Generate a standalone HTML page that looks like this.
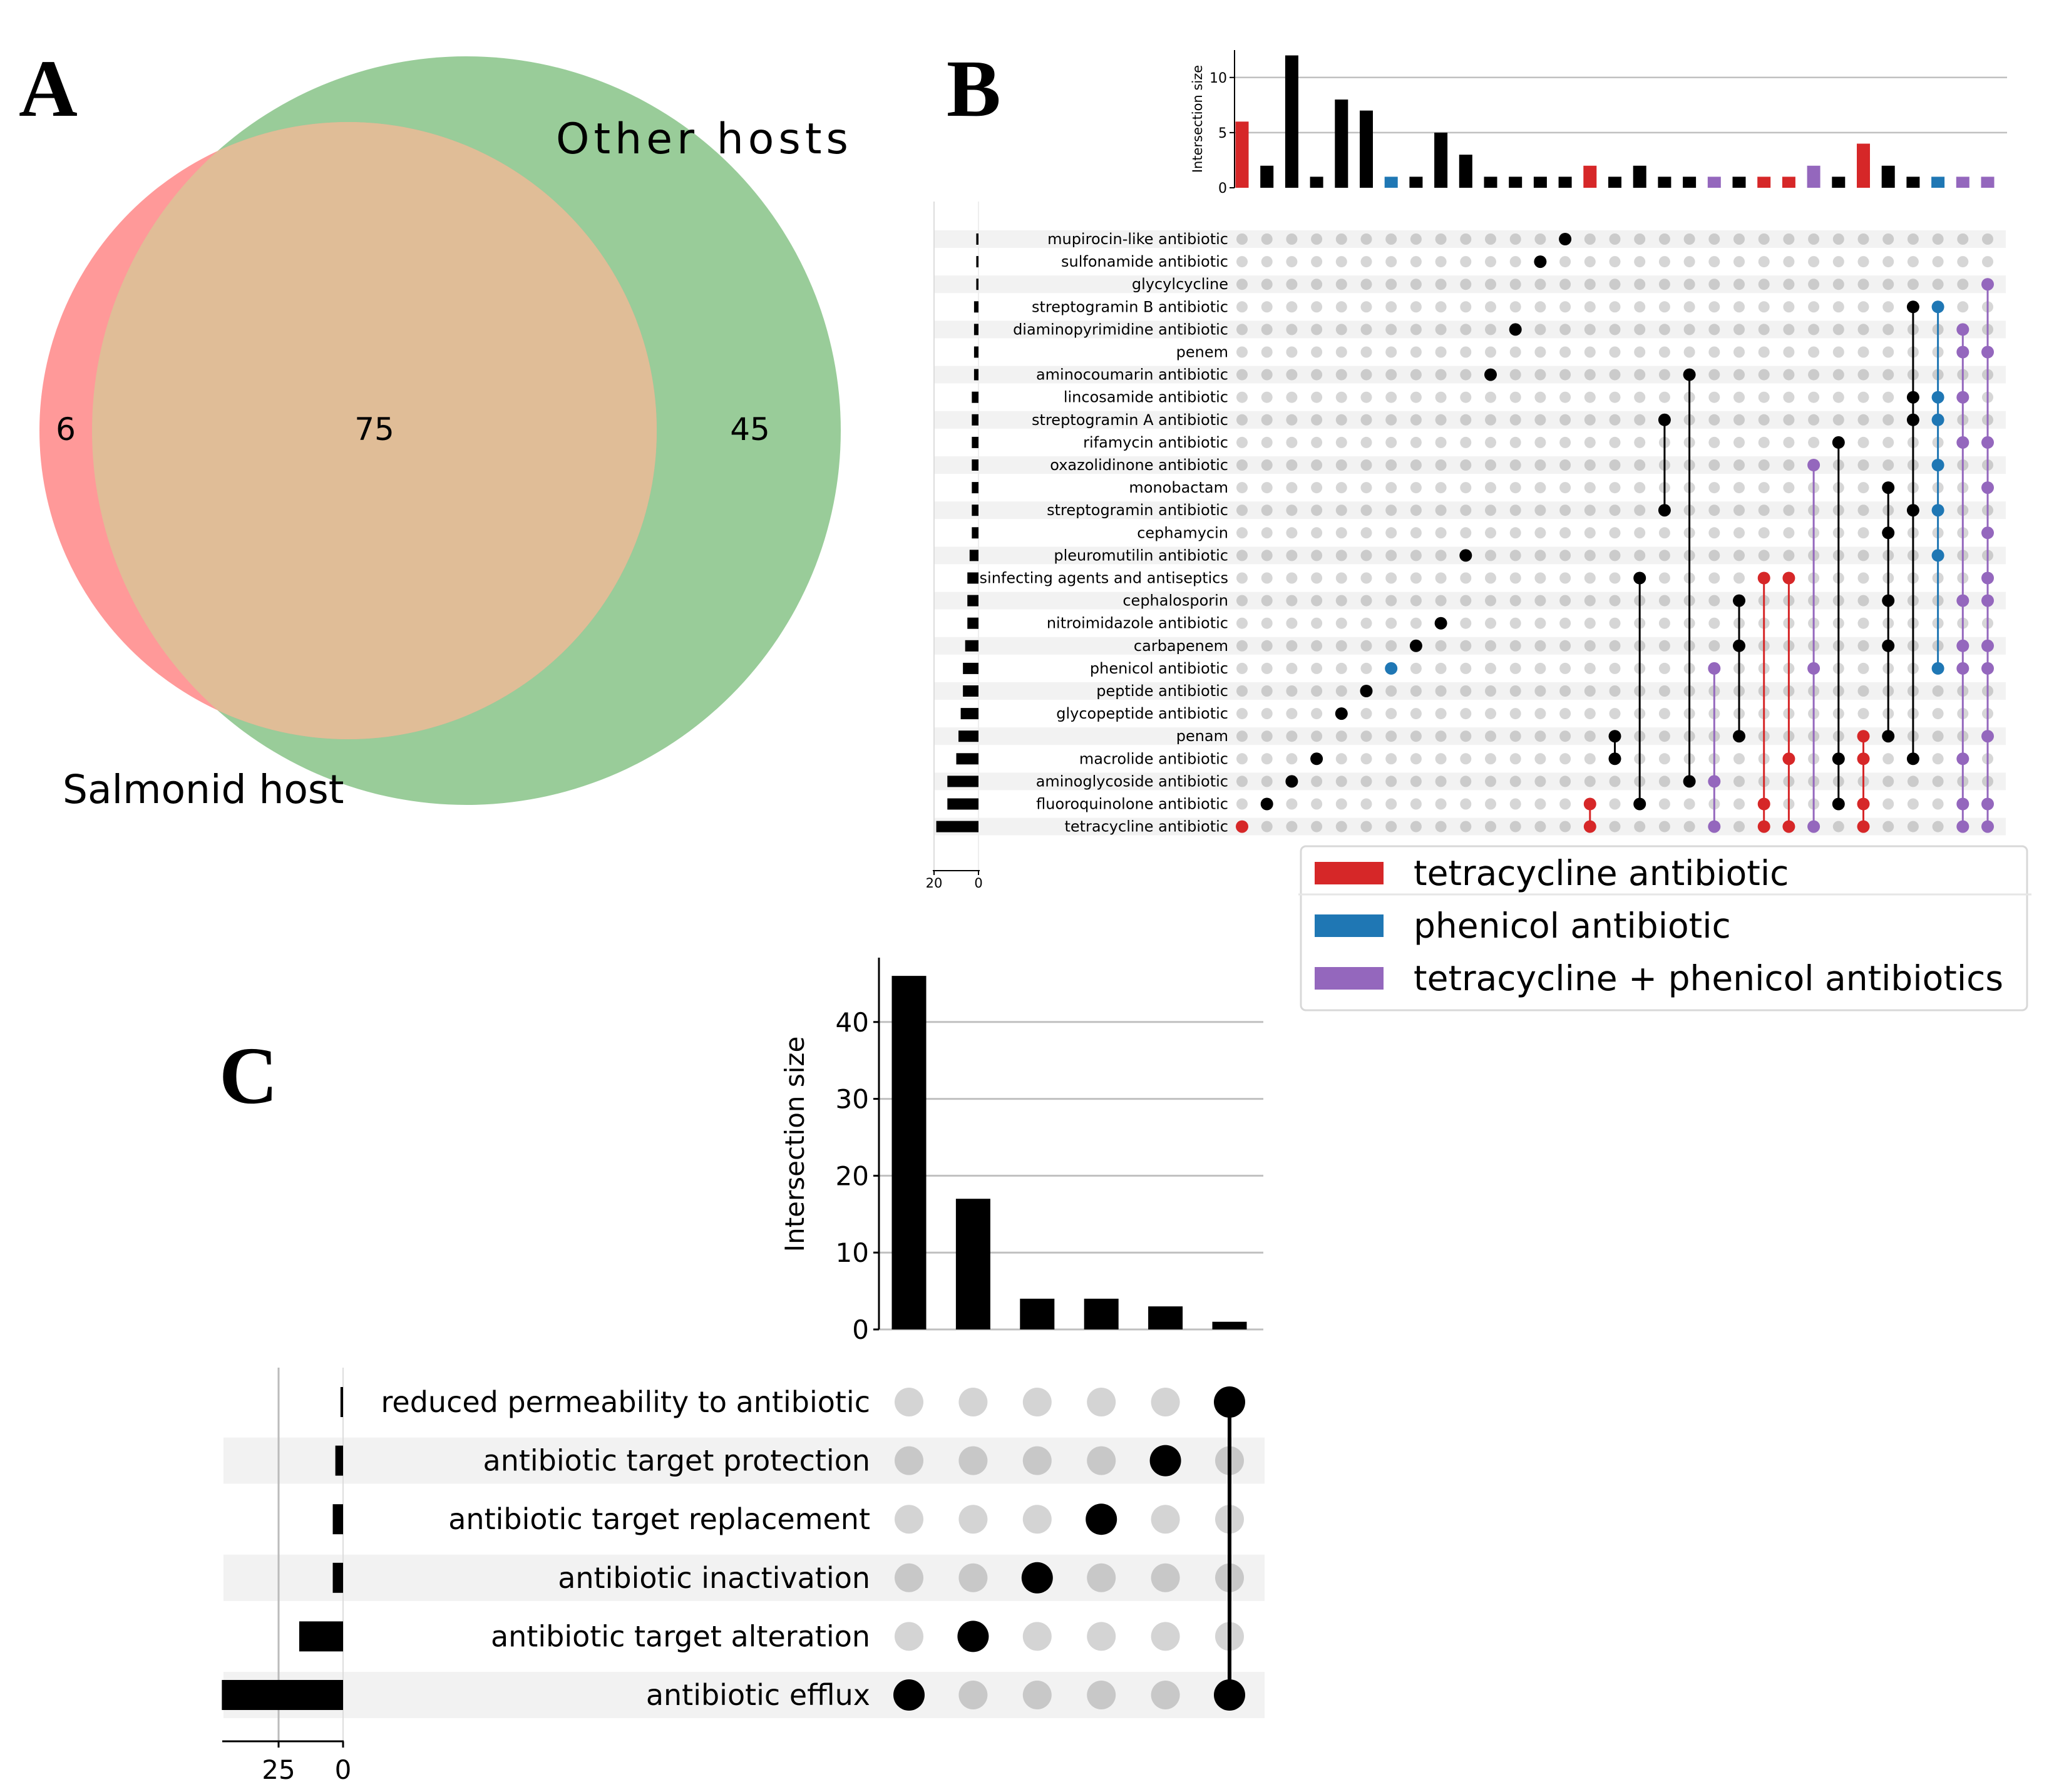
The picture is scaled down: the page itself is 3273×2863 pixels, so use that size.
<!DOCTYPE html>
<html><head><meta charset="utf-8"><style>
html,body{margin:0;padding:0;background:#fff;}
svg{display:block;font-family:"DejaVu Sans","Liberation Sans",sans-serif;}
</style></head><body>
<svg id="fig" xmlns="http://www.w3.org/2000/svg" width="3273" height="2863" viewBox="0 0 3273 2863">
<defs><clipPath id="bclip"><rect x="1566" y="0" width="1700" height="2863"/></clipPath></defs>
<g>
  <text x="30" y="185" font-family="Liberation Serif, serif" font-weight="bold" font-size="130">A</text>
  <circle cx="745" cy="688" r="598" fill="#99cc99"/>
  <circle cx="556" cy="688" r="493" fill="#ff9999"/>
  <clipPath id="vclip"><circle cx="745" cy="688" r="598"/></clipPath>
  <circle cx="556" cy="688" r="493" fill="#e0bd97" clip-path="url(#vclip)"/>
  <text x="105" y="703" font-size="50" text-anchor="middle">6</text>
  <text x="598" y="703" font-size="50" text-anchor="middle">75</text>
  <text x="1198" y="703" font-size="50" text-anchor="middle">45</text>
  <text x="888" y="245" font-size="68" letter-spacing="7">Other hosts</text>
  <text x="100" y="1283" font-size="63">Salmonid host</text>
</g>
<g id="pb">
  <text x="1512" y="185" font-family="Liberation Serif, serif" font-weight="bold" font-size="130">B</text>
</g>
<g id="pc">
  <text x="350" y="1762" font-family="Liberation Serif, serif" font-weight="bold" font-size="130">C</text>
</g>
<g transform="translate(-10,-6)">
  <rect x="2088" y="1358" width="1160" height="262" rx="8" fill="#fff" stroke="#d8d8d8" stroke-width="3"/>
  <line x1="2084" y1="1435" x2="3255" y2="1435" stroke="#e6e6e6" stroke-width="3"/>
  <rect x="2110" y="1383" width="110" height="36" fill="#d62728"/>
  <text x="2268" y="1420" font-size="55">tetracycline antibiotic</text>
  <rect x="2110" y="1467" width="110" height="36" fill="#1f77b4"/>
  <text x="2268" y="1504" font-size="55">phenicol antibiotic</text>
  <rect x="2110" y="1551" width="110" height="36" fill="#9467bd"/>
  <text x="2268" y="1588" font-size="55">tetracycline + phenicol antibiotics</text>
</g>
</svg>
<script>
// ---------- Panel B data ----------
const bSets = ["mupirocin-like antibiotic","sulfonamide antibiotic","glycylcycline","streptogramin B antibiotic","diaminopyrimidine antibiotic","penem","aminocoumarin antibiotic","lincosamide antibiotic","streptogramin A antibiotic","rifamycin antibiotic","oxazolidinone antibiotic","monobactam","streptogramin antibiotic","cephamycin","pleuromutilin antibiotic","disinfecting agents and antiseptics","cephalosporin","nitroimidazole antibiotic","carbapenem","phenicol antibiotic","peptide antibiotic","glycopeptide antibiotic","penam","macrolide antibiotic","aminoglycoside antibiotic","fluoroquinolone antibiotic","tetracycline antibiotic"];
const bCounts = [6,2,12,1,8,7,1,1,5,3,1,1,1,1,2,1,2,1,1,1,1,1,1,2,1,4,2,1,1,1,1];
const bColors = ["r","k","k","k","k","k","b","k","k","k","k","k","k","k","r","k","k","k","k","p","k","r","r","p","k","r","k","k","b","p","p"];
const bMembers = [[26],[25],[24],[23],[21],[20],[19],[18],[17],[14],[6],[4],[1],[0],[25,26],[22,23],[15,25],[8,12],[6,24],[19,24,26],[16,18,22],[15,25,26],[15,23,26],[10,19,26],[9,23,25],[22,23,25,26],[11,13,16,18,22],[3,7,8,12,23],[3,7,8,10,12,14,19],[4,5,7,9,16,18,19,23,25,26],[2,5,9,11,13,15,16,18,19,22,25,26]];
const bTicks = [0,5,10];
const bSizeTicks = [20,0];
// ---------- Panel C data ----------
const cSets = ["reduced permeability to antibiotic","antibiotic target protection","antibiotic target replacement","antibiotic inactivation","antibiotic target alteration","antibiotic efflux"];
const cCounts = [46,17,4,4,3,1];
const cMembers = [[5],[4],[3],[2],[1],[0,5]];
const cTicks = [0,10,20,30,40];
const cSizeTicks = [25,0];

const NS="http://www.w3.org/2000/svg";
const COL={r:"#d62728",b:"#1f77b4",p:"#9467bd",k:"#000"};
function mk(parent,tag,attrs,txt){const e=document.createElementNS(NS,tag);for(const k in attrs)e.setAttribute(k,attrs[k]);if(txt!==undefined)e.textContent=txt;parent.appendChild(e);return e;}

// ---- Panel B ----
(function(){
const g=document.getElementById('pb');
const x0=1984, dx=39.7, base=300, unit=8.4*2.098;
const colX=i=>x0+i*dx, yV=v=>base-v*unit;
const rowY=r=>382+r*36.1;
const sizeX=v=>1563-v*3.55;
const nR=bSets.length;
for(let r=0;r<nR;r+=2){const e=mk(g,'rect',{x:1492,y:rowY(r)-14,width:1712,height:28,fill:'#f2f2f2'});

}
bTicks.forEach(t=>{
 if(t>0){const l=mk(g,'line',{x1:1972,x2:3206,y1:yV(t),y2:yV(t),stroke:'#c0c0c0','stroke-width':2.5});
 
 }
 mk(g,'line',{x1:1964,x2:1972,y1:yV(t),y2:yV(t),stroke:'#000','stroke-width':2});
 const tx=mk(g,'text',{x:1960,y:yV(t)+8,'font-size':22,'text-anchor':'end'},String(t));
 
 
});
mk(g,'line',{x1:1972,x2:1972,y1:80,y2:base,stroke:'#000','stroke-width':2});
const yl=mk(g,'text',{x:0,y:0,'font-size':21,'text-anchor':'middle',transform:'translate(1920,190) rotate(-90)'},'Intersection size');


bCounts.forEach((v,i)=>{const e=mk(g,'rect',{x:colX(i)-10.5,y:yV(v),width:21,height:base-yV(v),fill:COL[bColors[i]]});
 
 });
const sizes=bSets.map((s,r)=>bMembers.reduce((a,m,i)=>a+(m.includes(r)?bCounts[i]:0),0));
mk(g,'line',{x1:1492,x2:1492,y1:322,y2:1391,stroke:'#ddd','stroke-width':2});
mk(g,'line',{x1:1563,x2:1563,y1:322,y2:1391,stroke:'#eee','stroke-width':2});
sizes.forEach((v,r)=>{const e=mk(g,'rect',{x:sizeX(v),y:rowY(r)-9,width:1563-sizeX(v),height:18,fill:'#000'});
 
 });
mk(g,'line',{x1:1490,x2:1565,y1:1391,y2:1391,stroke:'#000','stroke-width':2});
bSizeTicks.forEach(t=>{mk(g,'line',{x1:sizeX(t),x2:sizeX(t),y1:1391,y2:1398,stroke:'#000','stroke-width':2});
 const tx=mk(g,'text',{x:sizeX(t),y:1418,'font-size':21,'text-anchor':'middle'},String(t));
 
 });
bSets.forEach((s,r)=>{const t=mk(g,'text',{x:1962,y:rowY(r)+8,'font-size':24,'text-anchor':'end','clip-path':'url(#bclip)'},s);
 
 });
for(let i=0;i<bCounts.length;i++){for(let r=0;r<nR;r++){
 if(bMembers[i].includes(r))continue;
 const c=mk(g,'circle',{cx:colX(i),cy:rowY(r),r:9,fill:r%2===0?'#cbcbcb':'#d6d6d6'});
 
 }}
bMembers.forEach((m,i)=>{const col=COL[bColors[i]];
 const mn=Math.min(...m),mx=Math.max(...m);
 if(m.length>1){const l=mk(g,'line',{x1:colX(i),x2:colX(i),y1:rowY(mn),y2:rowY(mx),stroke:col,'stroke-width':3});
 
 }
 m.forEach(r=>{const c=mk(g,'circle',{cx:colX(i),cy:rowY(r),r:10,fill:col});
 
 });
});
})();

// ---- Panel C ----
(function(){
const g=document.getElementById('pc');
const x0=1452, dx=102.4, base=2124, unit=12.28;
const colX=i=>x0+i*dx, yV=v=>base-v*unit;
const rowY=r=>2240+r*93.6;
const sizeX=v=>548-v*4.12;
[1,3,5].forEach(r=>{const e=mk(g,'rect',{x:357,y:rowY(r)-37,width:1663,height:74,fill:'#f2f2f2'});
 
 });
cTicks.forEach(t=>{
 const l=mk(g,'line',{x1:1404,x2:2018,y1:yV(t),y2:yV(t),stroke:'#c0c0c0','stroke-width':3});
 
 
 mk(g,'line',{x1:1395,x2:1404,y1:yV(t),y2:yV(t),stroke:'#000','stroke-width':3});
 const tx=mk(g,'text',{x:1388,y:yV(t)+15,'font-size':42,'text-anchor':'end'},String(t));
 
 
});
mk(g,'line',{x1:1404,x2:1404,y1:1530,y2:base,stroke:'#000','stroke-width':3});
const yl=mk(g,'text',{x:0,y:0,'font-size':42,'text-anchor':'middle',transform:'translate(1284,1828) rotate(-90)'},'Intersection size');


cCounts.forEach((v,i)=>{const e=mk(g,'rect',{x:colX(i)-27.5,y:yV(v),width:55,height:base-yV(v),fill:'#000'});
 
 });
const sizes=cSets.map((s,r)=>cMembers.reduce((a,m,i)=>a+(m.includes(r)?cCounts[i]:0),0));
mk(g,'line',{x1:sizeX(25),x2:sizeX(25),y1:2185,y2:2782,stroke:'#bbb','stroke-width':3});
mk(g,'line',{x1:548,x2:548,y1:2185,y2:2782,stroke:'#ddd','stroke-width':2});
sizes.forEach((v,r)=>{const e=mk(g,'rect',{x:sizeX(v),y:rowY(r)-24,width:548-sizeX(v),height:48,fill:'#000'});
 
 });
mk(g,'line',{x1:355,x2:549,y1:2782,y2:2782,stroke:'#000','stroke-width':3});
cSizeTicks.forEach(t=>{mk(g,'line',{x1:sizeX(t),x2:sizeX(t),y1:2782,y2:2792,stroke:'#000','stroke-width':3});
 const tx=mk(g,'text',{x:sizeX(t),y:2842,'font-size':42,'text-anchor':'middle'},String(t));
 
 });
cSets.forEach((s,r)=>{const t=mk(g,'text',{x:1390,y:rowY(r)+16,'font-size':46,'text-anchor':'end'},s);
 
 });
for(let i=0;i<cCounts.length;i++){for(let r=0;r<cSets.length;r++){
 if(cMembers[i].includes(r))continue;
 const c=mk(g,'circle',{cx:colX(i),cy:rowY(r),r:23,fill:r%2===1?'#c8c8c8':'#d4d4d4'});
 
 }}
cMembers.forEach((m,i)=>{const mn=Math.min(...m),mx=Math.max(...m);
 if(m.length>1){const l=mk(g,'line',{x1:colX(i),x2:colX(i),y1:rowY(mn),y2:rowY(mx),stroke:'#000','stroke-width':6});
 
 }
 m.forEach(r=>{const c=mk(g,'circle',{cx:colX(i),cy:rowY(r),r:25,fill:'#000'});
 
 });
});
})();
</script>
</body></html>
